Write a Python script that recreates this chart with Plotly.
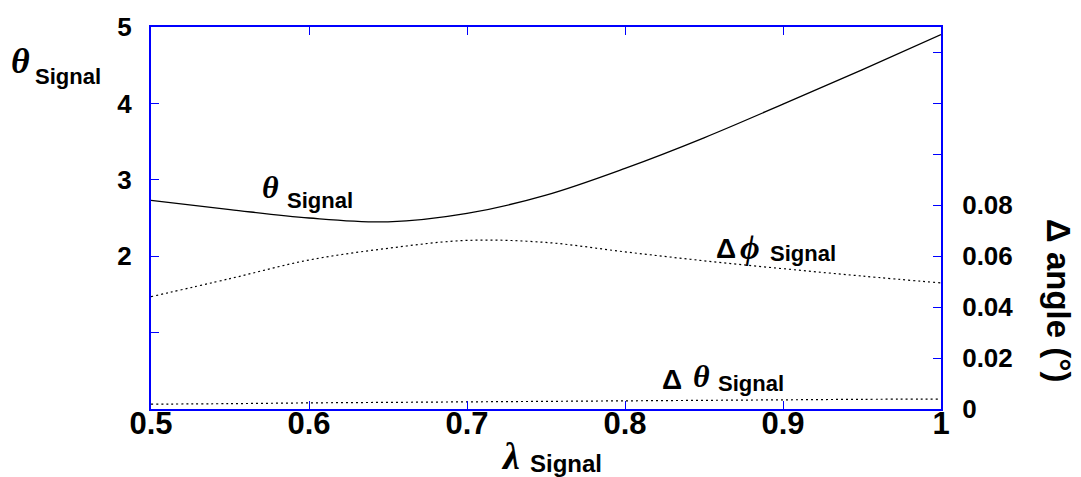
import plotly.graph_objects as go

# ---------------- data ----------------
lam = [0.50, 0.55, 0.60, 0.65, 0.70, 0.75, 0.80, 0.85, 0.90, 0.95, 1.00]
theta_signal = [2.73, 2.61, 2.50, 2.45, 2.56, 2.80, 3.15, 3.55, 3.99, 4.44, 4.90]
dphi_signal = [0.0441, 0.0512, 0.0585, 0.0631, 0.0662, 0.0654, 0.0617, 0.0582, 0.0551, 0.0522, 0.0495]
dtheta_signal = [0.0019, 0.0021, 0.0024, 0.0026, 0.0028, 0.0030, 0.0032, 0.0034, 0.0036, 0.0038, 0.0039]

x_ticks = [0.5, 0.6, 0.7, 0.8, 0.9, 1.0]
x_ticktext = ["0.5", "0.6", "0.7", "0.8", "0.9", "1"]
y_ticks = [1, 2, 3, 4, 5]
y_ticktext = ["", "2", "3", "4", "5"]
y2_ticks = [0, 0.02, 0.04, 0.06, 0.08, 0.10, 0.12, 0.14]
y2_ticktext = ["0", "0.02", "0.04", "0.06", "0.08", "", "", ""]

# ---------------- layout geometry ----------------
W, H = 1081, 477
L, R, T, B = 151, 941, 20, 409
BLUE = "#0000ff"
SANS = "Liberation Sans"
SERIF = "Liberation Serif"


def pp(xp, yp):
    return (xp - L) / (R - L), (B - yp) / (B - T)


fig = go.Figure()
fig.add_trace(go.Scatter(x=lam, y=theta_signal, mode="lines", line=dict(color="black", width=1.3, shape="spline"),
                         showlegend=False))
fig.add_trace(go.Scatter(x=lam, y=dphi_signal, mode="lines", yaxis="y2",
                         line=dict(color="black", width=1.2, dash="2px,3px", shape="spline"), showlegend=False))
fig.add_trace(go.Scatter(x=lam, y=dtheta_signal, mode="lines", yaxis="y2",
                         line=dict(color="black", width=1.2, dash="2px,3px", shape="spline"), showlegend=False))

annotations = []


def ann(text, xp, yp, size, family=SANS, style="normal", xanchor="center", yanchor="middle", angle=0):
    ax, ay = pp(xp, yp)
    annotations.append(dict(text=text, x=ax, y=ay, xref="paper", yref="paper", showarrow=False,
                            xanchor=xanchor, yanchor=yanchor, textangle=angle,
                            font=dict(family=family, size=size, color="black", weight="bold", style=style)))


# left axis title
ann("θ", 20, 55, 36, SERIF, "italic")
ann("Signal", 33, 70, 22, xanchor="left")
# curve labels
ann("θ", 270, 183, 32, SERIF, "italic")
ann("Signal", 285, 197, 22, xanchor="left")
ann("Δ", 726, 246, 28)
ann("ϕ", 750, 245, 34, SERIF, "italic")
ann("Signal", 768, 251, 22, xanchor="left")
ann("Δ", 672, 379, 28)
ann("θ", 701, 375, 32, SERIF, "italic")
ann("Signal", 716, 383, 22, xanchor="left")
# x title
ann("λ", 510, 457, 38, SERIF, "italic")
ann("Signal", 528, 464, 24, xanchor="left")
# right title
ann("Δ angle (°)", 1058, 298, 33, angle=90)

axis_common = dict(showgrid=False, zeroline=False, showline=True, linecolor=BLUE, linewidth=2,
                   ticks="inside", ticklen=8, tickwidth=1, tickcolor=BLUE)

fig.update_layout(
    width=W, height=H,
    margin=dict(l=L, r=W - R, t=T, b=H - B),
    plot_bgcolor="white", paper_bgcolor="white",
    annotations=annotations,
    xaxis=dict(range=[0.5, 1.0], tickvals=x_ticks, ticktext=x_ticktext, mirror="ticks", ticklabelstandoff=-14,
               tickfont=dict(family=SANS, size=31, color="black", weight="bold"), **axis_common),
    yaxis=dict(range=[0, 5], tickvals=y_ticks, ticktext=y_ticktext, ticklabelstandoff=12,
               tickfont=dict(family=SANS, size=26, color="black", weight="bold"), **axis_common),
    yaxis2=dict(range=[0, 0.15], tickvals=y2_ticks, ticktext=y2_ticktext, overlaying="y", side="right",
                ticklabelstandoff=14,
                tickfont=dict(family=SANS, size=26, color="black", weight="bold"), **axis_common),
)

fig.write_html("out.html")
